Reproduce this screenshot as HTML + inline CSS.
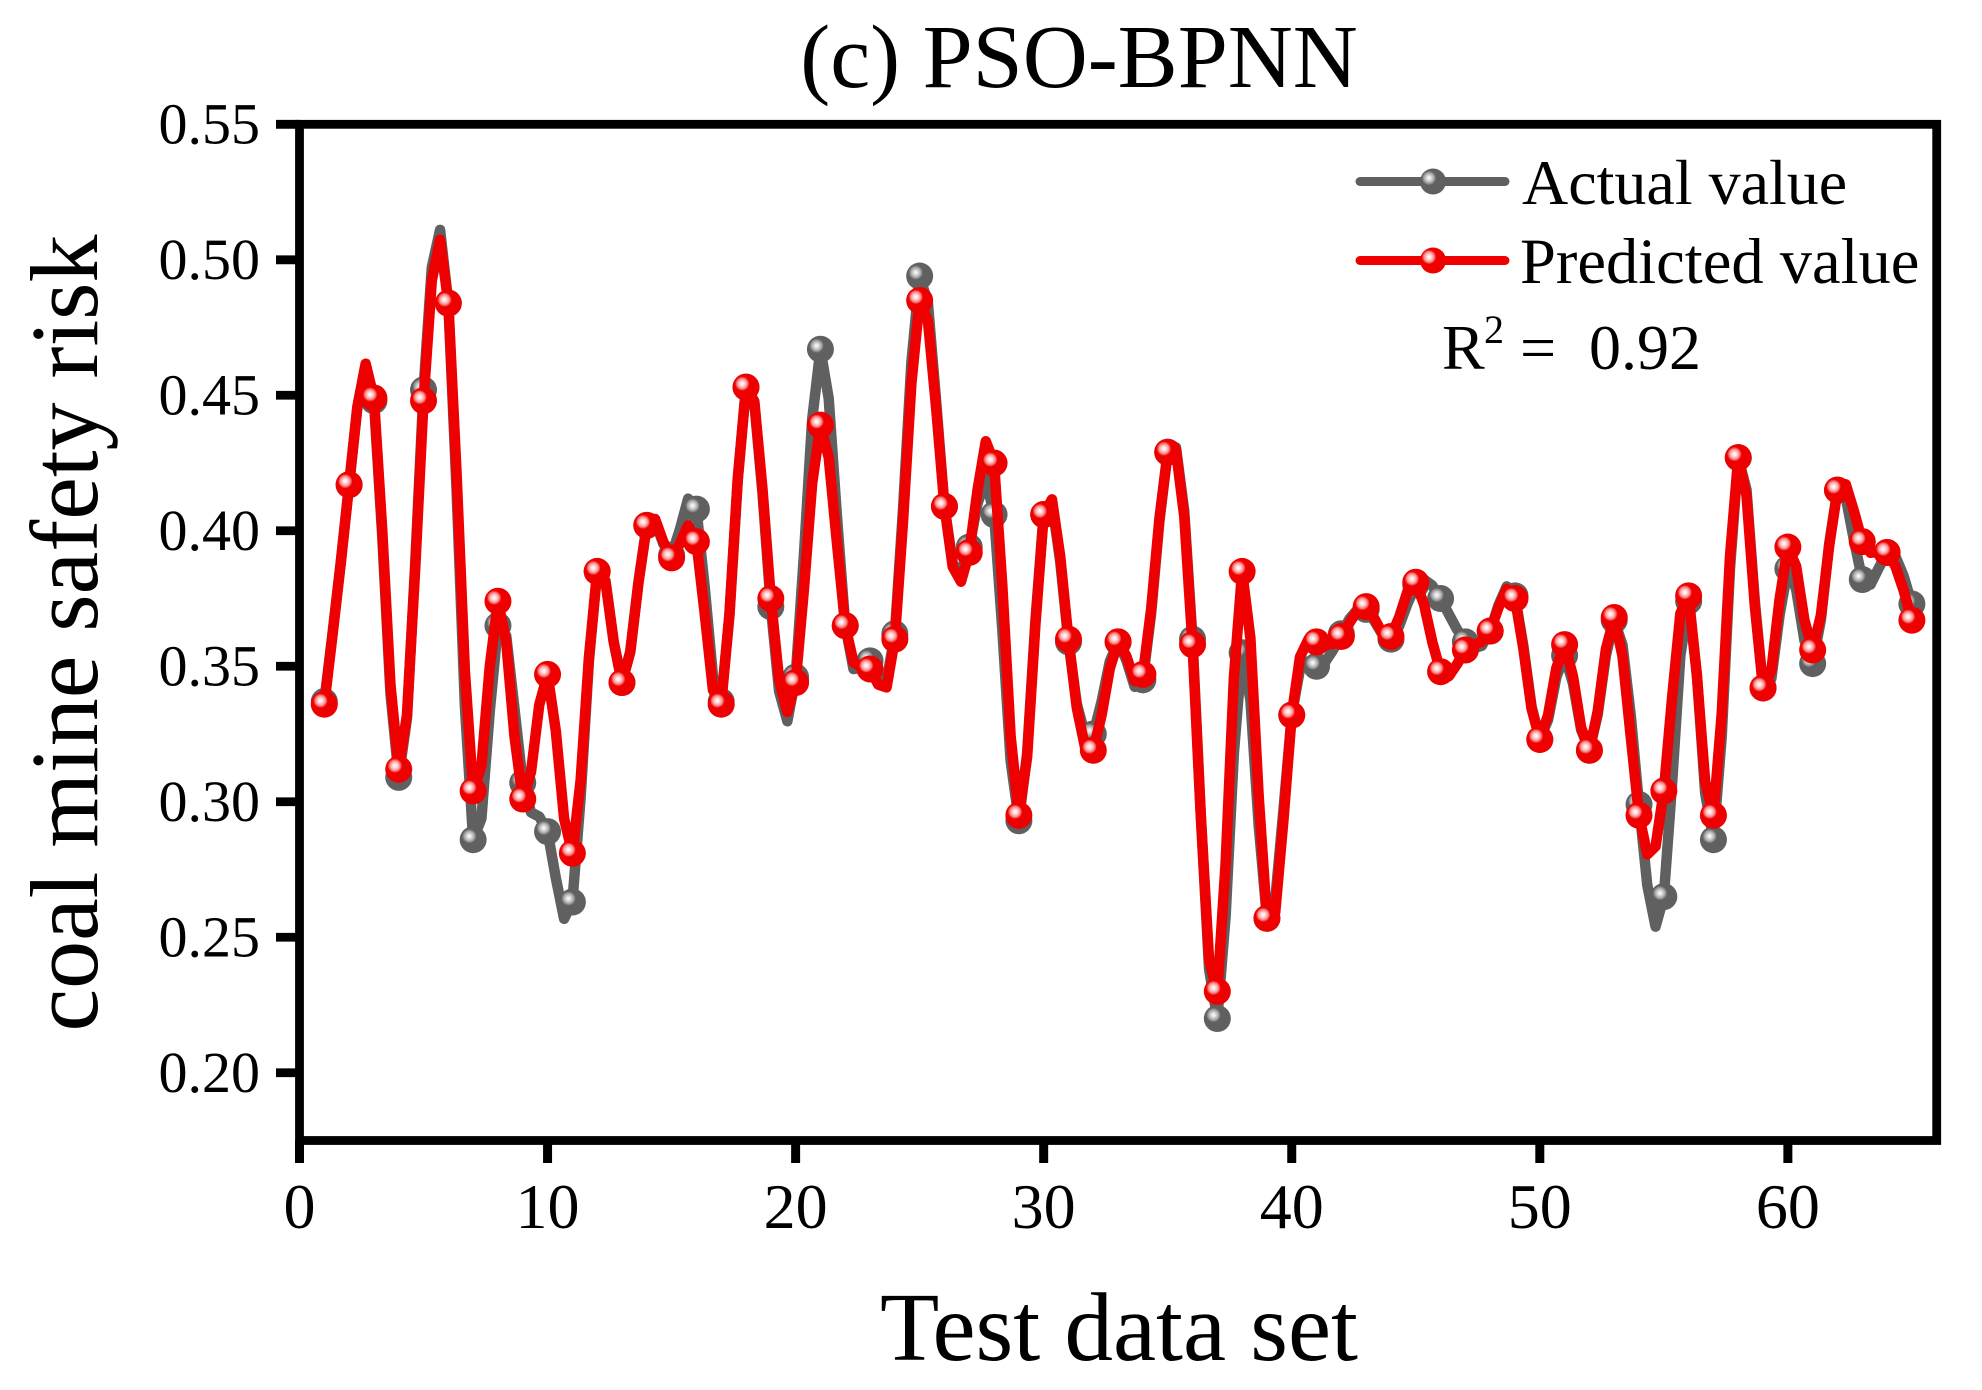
<!DOCTYPE html>
<html lang="en">
<head>
<meta charset="utf-8">
<title>(c) PSO-BPNN</title>
<style>
html,body{margin:0;padding:0;background:#fff;}
svg{display:block;}
text{font-family:"Liberation Serif",serif;fill:#000;}
</style>
</head>
<body>
<svg id="chart" xmlns="http://www.w3.org/2000/svg" width="1982" height="1390" viewBox="0 0 1982 1390">
  <defs>
    <radialGradient id="hl-red">
      <stop offset="0" stop-color="#ffffff"/>
      <stop offset="0.3" stop-color="#ffe0e0"/>
      <stop offset="0.7" stop-color="#ff8f8f"/>
      <stop offset="1" stop-color="#f01818"/>
    </radialGradient>
    <radialGradient id="hl-gray">
      <stop offset="0" stop-color="#ffffff"/>
      <stop offset="0.3" stop-color="#e0e0e0"/>
      <stop offset="0.7" stop-color="#a8a8a8"/>
      <stop offset="1" stop-color="#6a6a6a"/>
    </radialGradient>
  </defs>
  <rect x="0" y="0" width="1982" height="1390" fill="#ffffff"/>
  <text x="1079" y="87" font-size="90" text-anchor="middle">(c) PSO-BPNN</text>
  <g id="plot"></g>
  <g id="axes"></g>
  <text x="1119" y="1360" font-size="97" text-anchor="middle">Test data set</text>
  <text transform="translate(97,633) rotate(-90)" font-size="96" text-anchor="middle">coal mine safety risk</text>
  <g>
    <line x1="1360" y1="181.5" x2="1505" y2="181.5" stroke="#606060" stroke-width="9" stroke-linecap="round"/>
    <circle cx="1433" cy="181.5" r="13" fill="#606060"/>
    <circle cx="1429" cy="178" r="7" fill="url(#hl-gray)"/>
    <text x="1522" y="204" font-size="64">Actual value</text>
    <line x1="1360" y1="260.5" x2="1505" y2="260.5" stroke="#ee0000" stroke-width="9" stroke-linecap="round"/>
    <circle cx="1433" cy="260.5" r="13" fill="#ee0000"/>
    <circle cx="1429" cy="257" r="7" fill="url(#hl-red)"/>
    <text x="1520" y="283" font-size="64.5">Predicted value</text>
  </g>
  <g>
    <text x="1442" y="369" font-size="64">R</text>
    <text x="1484" y="343" font-size="40">2</text>
    <text x="1520" y="369" font-size="64">=</text>
    <text x="1589" y="369" font-size="64">0.92</text>
  </g>
</svg>
<script>
const testIndex = [1,2,3,4,5,6,7,8,9,10,11,12,13,14,15,16,17,18,19,20,21,22,23,24,25,26,27,28,29,30,31,32,33,34,35,36,37,38,39,40,41,42,43,44,45,46,47,48,49,50,51,52,53,54,55,56,57,58,59,60,61,62,63,64,65];
const actualValues = [0.337,0.417,0.448,0.309,0.452,0.484,0.286,0.365,0.307,0.289,0.263,0.385,0.344,0.402,0.391,0.408,0.337,0.453,0.372,0.346,0.467,0.365,0.352,0.362,0.494,0.409,0.394,0.406,0.293,0.406,0.359,0.325,0.359,0.345,0.429,0.360,0.220,0.355,0.257,0.332,0.350,0.362,0.371,0.360,0.380,0.375,0.359,0.363,0.376,0.323,0.354,0.319,0.367,0.299,0.265,0.374,0.286,0.427,0.342,0.386,0.351,0.415,0.382,0.392,0.373];
const predictedValues = [0.336,0.417,0.449,0.312,0.448,0.484,0.304,0.374,0.301,0.347,0.281,0.385,0.344,0.402,0.390,0.396,0.336,0.453,0.375,0.344,0.439,0.365,0.349,0.360,0.485,0.409,0.392,0.425,0.295,0.406,0.360,0.319,0.359,0.347,0.429,0.358,0.230,0.385,0.257,0.332,0.359,0.361,0.372,0.361,0.381,0.348,0.356,0.363,0.375,0.323,0.358,0.319,0.368,0.295,0.304,0.376,0.295,0.427,0.342,0.394,0.356,0.415,0.396,0.392,0.367];
const xTickValues = [0,10,20,30,40,50,60];
const yTickValues = [0.20,0.25,0.30,0.35,0.40,0.45,0.50,0.55];

const SVG_NS = 'http://www.w3.org/2000/svg';
const frame = {left:299.5, right:1936.7, top:124.3, bottom:1140.5};
const xDomain = [0,66];
const yDomain = [0.175,0.55];
function xScale(v){ return frame.left + (v - xDomain[0]) / (xDomain[1] - xDomain[0]) * (frame.right - frame.left); }
function yScale(v){ return frame.bottom - (v - yDomain[0]) / (yDomain[1] - yDomain[0]) * (frame.bottom - frame.top); }

function make(tag, attrs){
  const el = document.createElementNS(SVG_NS, tag);
  for (const k in attrs) el.setAttribute(k, attrs[k]);
  return el;
}

/* natural cubic spline through the points, sampled every third of a unit */
function splineSamples(xs, ys, perInterval){
  const n = xs.length;
  const m = new Array(n).fill(0), c = new Array(n).fill(0), d = new Array(n).fill(0);
  for (let i = 1; i < n - 1; i++){
    const h0 = xs[i] - xs[i-1], h1 = xs[i+1] - xs[i];
    const p = 2 * (h0 + h1) - h0 * c[i-1];
    c[i] = h1 / p;
    d[i] = (6 * ((ys[i+1] - ys[i]) / h1 - (ys[i] - ys[i-1]) / h0) - h0 * d[i-1]) / p;
  }
  for (let i = n - 2; i > 0; i--) m[i] = d[i] - c[i] * m[i+1];
  const out = [];
  for (let i = 0; i < n - 1; i++){
    const h = xs[i+1] - xs[i];
    for (let k = 0; k < perInterval; k++){
      const t = k / perInterval * h, a = h - t;
      const y = m[i] * a * a * a / (6 * h) + m[i+1] * t * t * t / (6 * h)
        + (ys[i] / h - m[i] * h / 6) * a + (ys[i+1] / h - m[i+1] * h / 6) * t;
      out.push([xs[i] + t, y]);
    }
  }
  out.push([xs[n-1], ys[n-1]]);
  return out;
}

const plot = document.getElementById('plot');
const axes = document.getElementById('axes');

function drawSeries(key, values, color, gradient){
  const group = make('g', {});
  
  
  const pts = splineSamples(testIndex, values, 3)
    .map(p => xScale(p[0]).toFixed(2) + ',' + yScale(p[1]).toFixed(2)).join(' ');
  const line = make('polyline', {points: pts, fill: 'none', stroke: color, 'stroke-width': 10.5, 'stroke-linejoin': 'round', 'stroke-linecap': 'round'});
  
  
  group.appendChild(line);
  values.forEach((v, i) => {
    const cx = xScale(testIndex[i]), cy = yScale(v);
    const dot = make('circle', {cx: cx, cy: cy, r: 13.5, fill: color});
    
    
    group.appendChild(dot);
    const shine = make('circle', {cx: cx - 3.8, cy: cy - 3.5, r: 7, fill: 'url(#' + gradient + ')'});
    
    
    group.appendChild(shine);
  });
  plot.appendChild(group);
}
drawSeries('actual', actualValues, '#606060', 'hl-gray');
drawSeries('predicted', predictedValues, '#ee0000', 'hl-red');

const border = make('rect', {x: frame.left, y: frame.top, width: frame.right - frame.left, height: frame.bottom - frame.top, fill: 'none', stroke: '#000', 'stroke-width': 8.8});


axes.appendChild(border);

xTickValues.forEach(v => {
  const tick = make('line', {x1: xScale(v), x2: xScale(v), y1: frame.bottom, y2: 1163, stroke: '#000', 'stroke-width': 9});
  
  
  axes.appendChild(tick);
  const label = make('text', {x: xScale(v), y: 1228, 'font-size': 64, 'text-anchor': 'middle'});
  
  
  label.textContent = String(v);
  axes.appendChild(label);
});
yTickValues.forEach(v => {
  const tick = make('line', {x1: 276, x2: frame.left, y1: yScale(v), y2: yScale(v), stroke: '#000', 'stroke-width': 8.8});
  
  
  axes.appendChild(tick);
  const label = make('text', {x: 260, y: yScale(v) + 19, 'font-size': 58, 'text-anchor': 'end'});
  
  
  label.textContent = v.toFixed(2);
  axes.appendChild(label);
});
</script>
</body>
</html>
